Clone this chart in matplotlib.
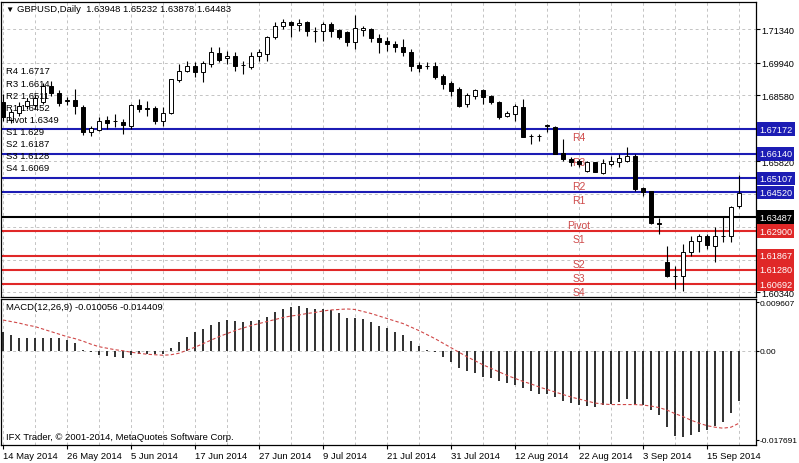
import matplotlib
matplotlib.use("Agg")
import matplotlib.pyplot as plt
from matplotlib.transforms import blended_transform_factory

plt.rcParams["font.family"] = ["Liberation Sans", "DejaVu Sans"]
plt.rcParams["font.size"] = 7

symbol = "GBPUSD,Daily"
last_ohlc = [1.63948, 1.65232, 1.63878, 1.64483]

opens = [
    1.6830, 1.6755, 1.6784, 1.6813, 1.6818, 1.6830, 1.6897, 1.6868, 1.6834, 1.6838,
    1.6809, 1.6705, 1.6713, 1.6755, 1.6751, 1.6747, 1.6730, 1.6818, 1.6805, 1.6805,
    1.6751, 1.6784, 1.6922, 1.6960, 1.6981, 1.6956, 1.6989, 1.7035, 1.7014, 1.7022,
    1.6985, 1.6977, 1.7022, 1.7031, 1.7102, 1.7148, 1.7165, 1.7152, 1.7165, 1.7127,
    1.7127, 1.7156, 1.7131, 1.7123, 1.7081, 1.7131, 1.7135, 1.7098, 1.7085, 1.7073,
    1.7060, 1.7039, 1.6985, 1.6981, 1.6981, 1.6939, 1.6910, 1.6884, 1.6822, 1.6855,
    1.6880, 1.6855, 1.6830, 1.6772, 1.6780, 1.6809, 1.6688, 1.6688, 1.6730, 1.6726,
    1.6617, 1.6592, 1.6584, 1.6542, 1.6579, 1.6533, 1.6571, 1.6579, 1.6584, 1.6604,
    1.6471, 1.6458, 1.6324, 1.6161, 1.6103, 1.6103, 1.6203, 1.6249, 1.6270, 1.6228,
    1.6270, 1.6270, 1.63948,
]
highs = [
    1.6864, 1.6801, 1.6830, 1.6847, 1.6859, 1.6910, 1.6918, 1.6880, 1.6851, 1.6884,
    1.6818, 1.6730, 1.6767, 1.6772, 1.6780, 1.6759, 1.6822, 1.6843, 1.6834, 1.6813,
    1.6809, 1.6928, 1.6989, 1.7002, 1.6997, 1.7002, 1.7060, 1.7060, 1.7043, 1.7039,
    1.7002, 1.7039, 1.7052, 1.7106, 1.7165, 1.7177, 1.7169, 1.7177, 1.7169, 1.7144,
    1.7165, 1.7165, 1.7135, 1.7127, 1.7194, 1.7148, 1.7140, 1.7114, 1.7102, 1.7085,
    1.7094, 1.7052, 1.6997, 1.6997, 1.6997, 1.6947, 1.6918, 1.6893, 1.6868, 1.6884,
    1.6884, 1.6859, 1.6834, 1.6793, 1.6822, 1.6843, 1.6696, 1.6696, 1.6738, 1.6730,
    1.6675, 1.6600, 1.6592, 1.6584, 1.6581, 1.6592, 1.6604, 1.6613, 1.6642, 1.6613,
    1.6475, 1.6460, 1.6345, 1.6228, 1.6145, 1.6237, 1.6270, 1.6278, 1.6278, 1.6308,
    1.6354, 1.6395, 1.65232,
]
lows = [
    1.6751, 1.6742, 1.6772, 1.6801, 1.6801, 1.6822, 1.6855, 1.6813, 1.6818, 1.6780,
    1.6692, 1.6688, 1.6709, 1.6717, 1.6726, 1.6696, 1.6717, 1.6788, 1.6772, 1.6738,
    1.6730, 1.6780, 1.6914, 1.6956, 1.6935, 1.6914, 1.6977, 1.6997, 1.6989, 1.6960,
    1.6947, 1.6968, 1.7002, 1.7002, 1.7094, 1.7135, 1.7102, 1.7127, 1.7106, 1.7081,
    1.7085, 1.7102, 1.7094, 1.7064, 1.7052, 1.7106, 1.7081, 1.7035, 1.7043, 1.7039,
    1.7022, 1.6960, 1.6956, 1.6968, 1.6926, 1.6884, 1.6855, 1.6811, 1.6809, 1.6843,
    1.6822, 1.6822, 1.6759, 1.6767, 1.6751, 1.6682, 1.6655, 1.6667, 1.6705, 1.6611,
    1.6584, 1.6563, 1.6559, 1.6538, 1.6536, 1.6529, 1.6563, 1.6559, 1.6579, 1.6458,
    1.6437, 1.6322, 1.6278, 1.6099, 1.6048, 1.6040, 1.6186, 1.6203, 1.6215, 1.6161,
    1.6245, 1.6245, 1.63878,
]
closes = [
    1.6767, 1.6788, 1.6813, 1.6834, 1.6847, 1.6897, 1.6868, 1.6826, 1.6838, 1.6813,
    1.6705, 1.6721, 1.6751, 1.6742, 1.6749, 1.6734, 1.6818, 1.6801, 1.6803, 1.6751,
    1.6784, 1.6926, 1.6960, 1.6981, 1.6956, 1.6993, 1.7039, 1.7006, 1.7022, 1.6981,
    1.6983, 1.7022, 1.7039, 1.7102, 1.7148, 1.7165, 1.7152, 1.7160, 1.7127, 1.7125,
    1.7156, 1.7127, 1.7102, 1.7081, 1.7140, 1.7140, 1.7098, 1.7081, 1.7073, 1.7060,
    1.7039, 1.6981, 1.6972, 1.6979, 1.6935, 1.6905, 1.6876, 1.6813, 1.6859, 1.6880,
    1.6851, 1.6830, 1.6767, 1.6784, 1.6813, 1.6684, 1.6686, 1.6690, 1.6732, 1.6613,
    1.6592, 1.6579, 1.6571, 1.6579, 1.6538, 1.6575, 1.6584, 1.6596, 1.6604, 1.6466,
    1.6454, 1.6324, 1.6322, 1.6103, 1.6101, 1.6203, 1.6249, 1.6270, 1.6232, 1.6270,
    1.6272, 1.6391, 1.64483,
]

macd_hist = [
    0.0038, 0.0031, 0.0025, 0.0025, 0.0025, 0.0026, 0.0026, 0.0025, 0.0021, 0.0015,
    0.0001, -0.0002, -0.0009, -0.0011, -0.0013, -0.0015, -0.0009, -0.0006, -0.0007, -0.0007,
    -0.0007, 0.0005, 0.0017, 0.0028, 0.0038, 0.0043, 0.0051, 0.0057, 0.0061, 0.0060,
    0.0058, 0.0060, 0.0061, 0.0068, 0.0077, 0.0083, 0.0087, 0.0088, 0.0085, 0.0082,
    0.0082, 0.0080, 0.0075, 0.0066, 0.0065, 0.0064, 0.0058, 0.0050, 0.0045, 0.0038,
    0.0031, 0.0019, 0.0010, 0.0001, -0.0002, -0.0012, -0.0022, -0.0035, -0.0040, -0.0045,
    -0.0052, -0.0055, -0.0060, -0.0065, -0.0068, -0.0075, -0.0081, -0.0087, -0.0087, -0.0092,
    -0.0100, -0.0103, -0.0108, -0.0109, -0.0111, -0.0108, -0.0105, -0.0101, -0.0096, -0.0105,
    -0.0108, -0.0118, -0.0128, -0.0151, -0.0169, -0.0171, -0.0168, -0.0162, -0.0158, -0.0149,
    -0.0141, -0.0124, -0.010056,
]
macd_signal = [
    0.0061, 0.0058, 0.0055, 0.0051, 0.0048, 0.0043, 0.0038, 0.0033, 0.0028, 0.0024,
    0.0019, 0.0013, 0.0008, 0.0005, 0.0002, 0.0000, -0.0003, -0.0005, -0.0007, -0.0008,
    -0.0009, -0.0008, -0.0005, 0.0001, 0.0007, 0.0014, 0.0021, 0.0028, 0.0034, 0.0040,
    0.0045, 0.0050, 0.0054, 0.0058, 0.0062, 0.0066, 0.0069, 0.0071, 0.0074, 0.0076,
    0.0079, 0.0081, 0.0082, 0.0083, 0.0082, 0.0078, 0.0074, 0.0069, 0.0064, 0.0059,
    0.0054, 0.0047, 0.0040, 0.0032, 0.0024, 0.0015, 0.0006, -0.0003, -0.0012, -0.0020,
    -0.0028, -0.0035, -0.0042, -0.0049, -0.0055, -0.0061, -0.0066, -0.0072, -0.0077, -0.0082,
    -0.0087, -0.0092, -0.0096, -0.0100, -0.0104, -0.0106, -0.0107, -0.0107, -0.0107, -0.0107,
    -0.0108, -0.0110, -0.0113, -0.0118, -0.0125, -0.0131, -0.0138, -0.0144, -0.0149, -0.0152,
    -0.0154, -0.0152, -0.014409,
]

level_names = ["R4", "R3", "R2", "R1", "Pivot", "S1", "S2", "S3", "S4"]
level_values = [1.67172, 1.66140, 1.65107, 1.64520, 1.63487, 1.62900, 1.61867, 1.61280, 1.60692]
level_short = ["1.6717", "1.6614", "1.6511", "1.6452", "1.6349", "1.629", "1.6187", "1.6128", "1.6069"]

price_ticks = [1.60340, 1.61710, 1.63085, 1.64460, 1.65820, 1.67200, 1.68580, 1.69940, 1.71340]
# labels hidden behind the coloured level boxes stay blank
price_tick_labels = ["1.60340", "", "", "", "1.65820", "", "1.68580", "1.69940", "1.71340"]
date_labels = ["14 May 2014", "26 May 2014", "5 Jun 2014", "17 Jun 2014", "27 Jun 2014",
               "9 Jul 2014", "21 Jul 2014", "31 Jul 2014", "12 Aug 2014", "22 Aug 2014",
               "3 Sep 2014", "15 Sep 2014"]

BLUE = "#1c1cb4"
RED = "#e02828"
LABEL_RED = "#cf4a4a"
GRID = "#c4c4c4"
FS = 6.8

W, H = 799, 464
fig = plt.figure(figsize=(W / 100, H / 100), dpi=100)
fig.patch.set_facecolor("white")


def frac(px, py):
    return px / W, 1 - py / H


ax = fig.add_axes([1 / W, 1 - 298 / H, 755 / W, 295 / H])
ax2 = fig.add_axes([1 / W, 1 - 446 / H, 755 / W, 146 / H])

n = len(closes)
xs = list(range(n))

# grid lines every 4 bars
for a in (ax, ax2):
    a.set_xlim(-0.25, 94.125)
    a.set_xticks(range(0, n, 4), minor=True)
    a.grid(True, which="both", axis="x", color=GRID, ls=(0, (3, 3)), lw=0.7)
    a.set_axisbelow(True)
    for s in a.spines.values():
        s.set_linewidth(0.9)
        s.set_color("black")
    a.tick_params(which="minor", length=0)

# main panel
ax.set_ylim(1.60151, 1.72482)
ax.yaxis.tick_right()
ax.set_yticks(price_ticks)
ax.set_yticklabels(price_tick_labels)
ax.tick_params(axis="y", length=3, pad=1, labelsize=6.6)
ax.tick_params(axis="x", which="both", length=0, labelbottom=False)
ax.grid(True, axis="y", color=GRID, ls=(0, (3, 3)), lw=0.7)

level_colors = [BLUE] * 4 + ["black"] + [RED] * 4
for name, val, col in zip(level_names, level_values, level_colors):
    ax.axhline(val, color=col, lw=1.5, zorder=1.5)
    ax.annotate(name, (72, val), xytext=(0, -2), textcoords="offset points",
                ha="center", va="top", color=LABEL_RED, fontsize=7.5, zorder=2)

# candles
up = [c >= o for o, c in zip(opens, closes)]
ax.vlines(xs, lows, highs, color="black", lw=0.8, zorder=3)
bottoms = [min(o, c) for o, c in zip(opens, closes)]
heights = [max(abs(c - o), 0.00003) for o, c in zip(opens, closes)]
ax.bar(xs, heights, bottom=bottoms, width=0.6,
       color=["white" if u else "black" for u in up],
       edgecolor="black", linewidth=0.7, zorder=4)

# right axis value boxes
tr = blended_transform_factory(ax.transAxes, ax.transData)
for val, col in zip(level_values, level_colors):
    ax.text(1.004, val, f"{val:.5f}", transform=tr, ha="left", va="center",
            color="white", fontsize=6.6, clip_on=False, zorder=10,
            bbox=dict(boxstyle="square,pad=0.25", fc=col, ec="none"))

# header and pivot list
fig.text(*frac(5, 10), "\u25bc", fontsize=6, va="center", ha="left")
fig.text(*frac(17, 10), f"{symbol}  " + " ".join(f"{v:.5f}" for v in last_ohlc),
         fontsize=FS, va="center", ha="left")
for i, (name, short) in enumerate(zip(level_names, level_short)):
    fig.text(*frac(6, 72 + 12.1 * i), f"{name} {short}", fontsize=FS, va="center", ha="left")

# MACD panel
ax2.set_ylim(-0.01874, 0.01028)
ax2.vlines(xs, 0, macd_hist, color="#202020", lw=1.3, zorder=3)
ax2.plot(xs, macd_signal, color="#d04848", lw=0.8, ls=(0, (3, 2)), zorder=4)
ax2.axhline(0, color=GRID, ls=(0, (3, 3)), lw=0.7, zorder=1)
ax2.yaxis.tick_right()
ax2.set_yticks([0.009607, 0.0, -0.017691])
ax2.set_yticklabels(["0.009607", "0.00", "-0.017691"])
ax2.tick_params(axis="y", length=2, pad=0.5, labelsize=6.0)
ax2.set_xticks(range(0, n, 8))
ax2.set_xticklabels(date_labels)
for lbl in ax2.get_xticklabels():
    lbl.set_ha("left")
ax2.tick_params(axis="x", which="major", length=3, pad=1, labelsize=FS)
ax2.text(0.006, 0.95, f"MACD(12,26,9) {macd_hist[-1]:.6f} {macd_signal[-1]:.6f}",
         transform=ax2.transAxes, fontsize=FS, va="center", ha="left")
ax2.text(0.006, 0.055, "IFX Trader, \u00a9 2001-2014, MetaQuotes Software Corp.",
         transform=ax2.transAxes, fontsize=FS, va="center", ha="left")

fig.savefig("out.png", dpi=100)
